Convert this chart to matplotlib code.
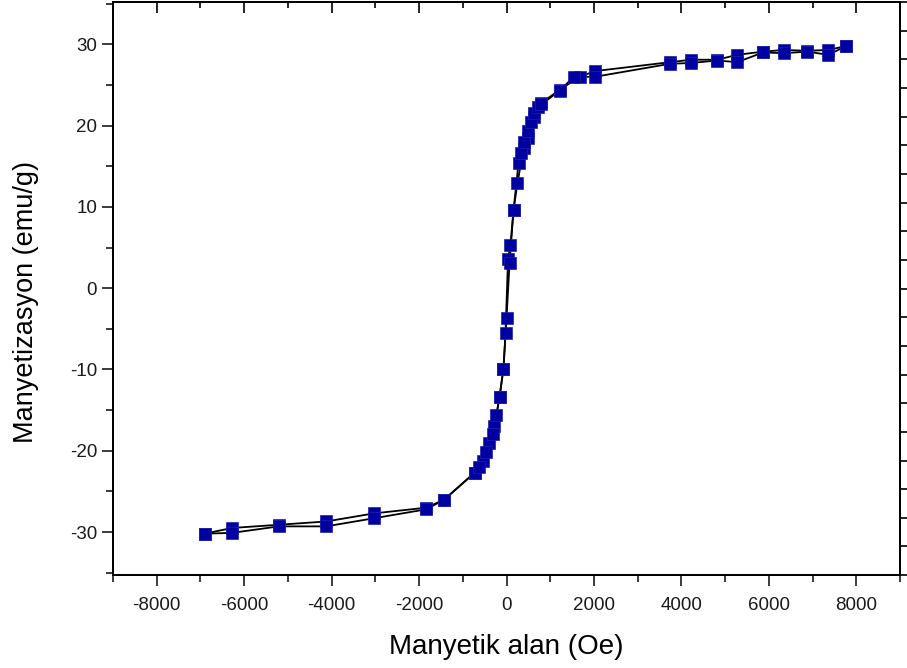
import numpy as np
import matplotlib
matplotlib.use("Agg")
import matplotlib.pyplot as plt
from matplotlib.ticker import MultipleLocator, NullFormatter

plt.rcParams['font.family'] = ['Liberation Sans', 'DejaVu Sans']
plt.rcParams['axes.unicode_minus'] = False

# azalan kol (+H -> -H)
H_down = [7775, 7360, 6880, 6350, 5870, 5275, 4820, 4220, 3740, 2020, 1675, 1215,
          800, 640, 480, 390, 250, 160, 90, 35, -23, -70, -160, -275, -390, -530,
          -730, -1422, -1835, -3028, -4128, -5206, -6280, -6904]
M_down = [29.8, 29.3, 29.2, 29.3, 29.1, 28.7, 28.1, 28.1, 27.8, 26.7, 26.0, 24.4,
          22.8, 21.1, 18.5, 17.2, 12.9, 9.6, 5.3, 3.6, -5.5, -9.9, -13.4, -16.9, -19.1, -21.2,
          -22.7, -26.0, -27.0, -27.7, -28.7, -29.1, -29.5, -30.2]

# artan kol (-H -> +H)
H_up = [-6904, -6280, -5206, -4128, -3028, -1835, -1422, -730, -640, -460, -300, -230,
        -160, -70, 0, 70, 160, 275, 320, 410, 480, 550, 640, 730, 800, 1215, 1540, 2020,
        3740, 4220, 4820, 5275, 5870, 6350, 6880, 7360, 7775]
M_up = [-30.2, -30.1, -29.3, -29.3, -28.3, -27.2, -26.0, -22.7, -22.0, -20.2, -17.9, -15.6,
        -13.4, -9.9, -3.7, 3.1, 9.6, 15.4, 16.6, 18.0, 19.3, 20.5, 21.5, 22.3, 22.6, 24.3, 26.0, 26.0,
        27.6, 27.7, 28.0, 27.8, 29.0, 28.9, 29.1, 28.7, 29.8]

fig = plt.figure(figsize=(9.07, 6.68), dpi=100)
ax = fig.add_axes([0.1246, 0.139, 0.8677, 0.858])

for H, M in [(H_down, M_down), (H_up, M_up)]:
    ax.plot(H, M, color='k', lw=1.3, zorder=2)
    ax.plot(H, M, ls='none', marker='s', ms=9, mfc='#0000A0', mec='#2020B0', mew=0.5, zorder=3)

ax.set_xlim(-9000, 9000)
ax.set_ylim(-35.3, 35.2)
ax.xaxis.set_major_locator(MultipleLocator(2000))
ax.xaxis.set_minor_locator(MultipleLocator(1000))
ax.yaxis.set_major_locator(MultipleLocator(10))
ax.yaxis.set_minor_locator(MultipleLocator(5))
ax.tick_params(which='both', direction='out', width=1.2, labelsize=13.5, colors='#1a1a1a')
ax.tick_params(which='major', length=8)
ax.tick_params(which='minor', length=5)
ax.tick_params(axis='x', pad=8)
for s in ax.spines.values():
    s.set_linewidth(1.4)

# ust eksen: ice dogru tikler
top = ax.secondary_xaxis('top')
top.xaxis.set_major_locator(MultipleLocator(2000))
top.xaxis.set_minor_locator(MultipleLocator(1000))
top.xaxis.set_major_formatter(NullFormatter())
top.tick_params(which='both', direction='in', width=1.2)
top.tick_params(which='major', length=8)
top.tick_params(which='minor', length=4)
top.spines['top'].set_linewidth(1.4)

# sag eksen
right = ax.twinx()
right.set_ylim(0, 20)
right.yaxis.set_major_locator(MultipleLocator(1))
right.yaxis.set_major_formatter(NullFormatter())
right.tick_params(direction='out', length=6, width=1.2)
for s in right.spines.values():
    s.set_linewidth(1.4)

ax.set_xlabel('Manyetik alan (Oe)', fontsize=20, labelpad=14)
ax.set_ylabel('Manyetizasyon (emu/g)', fontsize=19.5)
ax.yaxis.set_label_coords(-0.094, 0.476)

fig.savefig('out.png', dpi=100)
